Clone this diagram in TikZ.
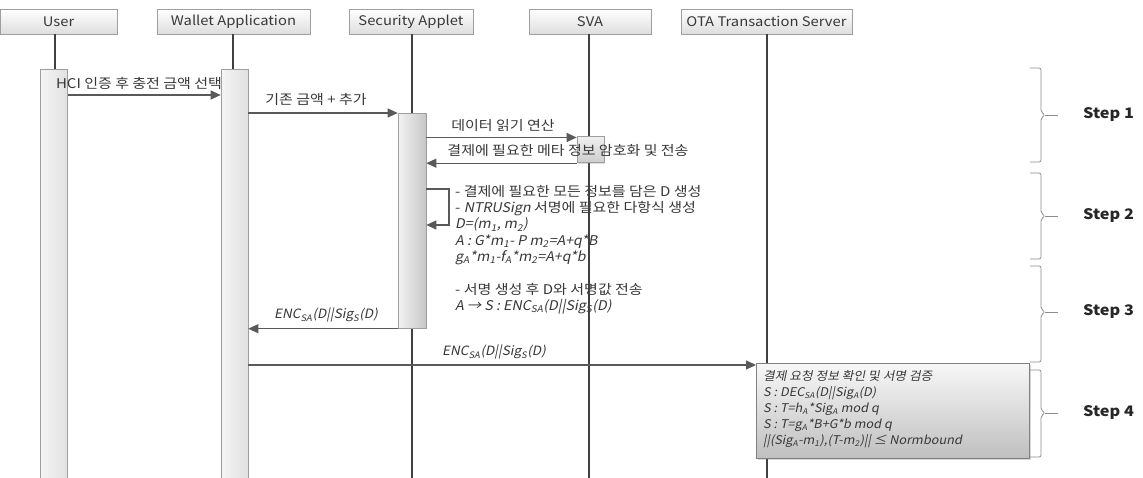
\documentclass[tikz,border=0pt]{standalone}
\usepackage{fontspec}
\setmainfont{Noto Sans CJK KR}[FakeStretch=1.12]
\newfontfamily\itf{Noto Sans CJK KR}[FakeSlant=0.2,FakeStretch=1.06]
\usetikzlibrary{arrows.meta,shadows}
\definecolor{lifec}{gray}{0.25}
\definecolor{msgc}{gray}{0.35}
\definecolor{txtc}{gray}{0.22}
\definecolor{bordc}{gray}{0.62}
\begin{document}
\begin{tikzpicture}[x=1pt,y=-1pt,
  head/.style={draw=bordc, line width=0.8pt, top color=white, bottom color=black!13,
    text=txtc, font=\fontsize{13.2}{15}\selectfont, inner sep=0pt,
    drop shadow={opacity=0.25, shadow xshift=1pt, shadow yshift=-1.2pt}},
  lifeline/.style={draw=lifec, line width=2pt},
  bar/.style={draw=bordc, line width=0.7pt, left color=black!4, right color=black!12},
  msg/.style={draw=msgc, line width=1.1pt, -{Triangle[length=10pt,width=9pt]}},
  lbl/.style={text=txtc, font=\fontsize{13.4}{15}\selectfont, inner sep=0pt},
  ilbl/.style={text=txtc, font=\itf\fontsize{12.8}{15}\selectfont, inner sep=0pt},
  brace/.style={draw=black!45, line width=0.7pt, rounded corners=2pt},
  steplbl/.style={text=black!85, font=\bfseries\fontsize{14.5}{16}\selectfont, inner sep=0pt, anchor=west}
]
\useasboundingbox (0,0) rectangle (1143,478);
\fill[white] (0,0) rectangle (1143,478);

% header boxes
\node[head, minimum width=117pt, minimum height=25pt] (huser) at (58.5,21.5) {User};
\node[head, minimum width=153pt, minimum height=25pt] (hwal) at (233.5,21.5) {Wallet Application};
\node[head, minimum width=124pt, minimum height=25pt] (hsa) at (411,21.5) {Security Applet};
\node[head, minimum width=122pt, minimum height=25pt] (hsva) at (590,21.5) {SVA};
\node[head, minimum width=171pt, minimum height=25pt] (hota) at (766.5,21.5) {OTA Transaction Server};

% lifeline ends
\coordinate (euser) at (55,478);
\coordinate (ewal) at (233,478);
\coordinate (esa) at (412,478);
\coordinate (esva) at (589,478);
\coordinate (eota) at (767,478);

% labels drawn beneath the lifelines
\node[lbl] (l2) at (316,99) {기존 금액 + 추가};
\node[lbl] (l3) at (503,125) {데이터 읽기 연산};
\node[lbl, anchor=north west, align=left, font=\fontsize{13.4}{16.3}\selectfont] (l5) at (455,185)
  {- 결제에 필요한 모든 정보를 담은 D 생성\\
   - {\itf NTRUSign} 서명에 필요한 다항식 생성\\
   {\itf D=(m\textsubscript{1}, m\textsubscript{2})}\\
   {\itf A : G*m\textsubscript{1}- P m\textsubscript{2}=A+q*B}\\
   {\itf g\textsubscript{A}*m\textsubscript{1}-f\textsubscript{A}*m\textsubscript{2}=A+q*b}\\[16.3pt]
   - 서명 생성 후 D와 서명값 전송\\
   {\itf A → S : ENC\textsubscript{SA}(D||Sig\textsubscript{S}(D)}};
\node[ilbl] (l6) at (326,315) {ENC\textsubscript{SA}(D||Sig\textsubscript{S}(D)};
\node[ilbl] (l7) at (494,352) {ENC\textsubscript{SA}(D||Sig\textsubscript{S}(D)};

% lifelines
\draw[lifeline] (huser.south -| euser) -- (euser);
\draw[lifeline] (hwal.south -| ewal) -- (ewal);
\draw[lifeline] (hsa.south -| esa) -- (esa);
\draw[lifeline] (hsva.south -| esva) -- (esva);
\draw[lifeline] (hota.south -| eota) -- (eota);

% activation bars
\node[bar, minimum width=27pt, minimum height=420pt, inner sep=0pt, anchor=north] (buser) at (54,69) {};
\node[bar, minimum width=27pt, minimum height=420pt, inner sep=0pt, anchor=north] (bwal) at (234.5,69) {};
\node[bar, minimum width=28pt, minimum height=215pt, inner sep=0pt, anchor=north, left color=black!5, right color=black!22] (bsa) at (412,113) {};
\node[bar, minimum width=27pt, minimum height=26pt, inner sep=0pt, anchor=north, top color=black!6, bottom color=black!20,
  drop shadow={opacity=0.25, shadow xshift=1pt, shadow yshift=-1.2pt}] (bsva) at (590.5,136.5) {};

% labels drawn over the bars
\node[lbl] (l1) at (139,83) {HCI 인증 후 충전 금액 선택};
\node[lbl] (l4) at (568,150) {결제에 필요한 메타 정보 암호화 및 전송};

% step 4 box
\node[draw=black!50, line width=0.7pt, top color=black!3, bottom color=black!25, minimum width=273pt, minimum height=95pt,
  inner sep=0pt, anchor=north west, drop shadow={opacity=0.3, shadow xshift=1.5pt, shadow yshift=-1.5pt}] (box4) at (756,363) {};
\node[ilbl, anchor=north west, align=left, font=\itf\fontsize{12}{16}\selectfont] (t4) at (763,370)
  {결제 요청 정보 확인 및 서명 검증\\
   S : DEC\textsubscript{SA}(D||Sig\textsubscript{A}(D)\\
   S : T=h\textsubscript{A}*Sig\textsubscript{A} mod q\\
   S : T=g\textsubscript{A}*B+G*b mod q\\
   ||(Sig\textsubscript{A}-m\textsubscript{1}),(T-m\textsubscript{2})|| ≤ Normbound};

% messages
\draw[msg] (buser.east |- 0,95) -- (bwal.west |- 0,95);
\draw[msg] (bwal.east |- bsa.north) -- (bsa.north west);
\draw[msg] (bsa.east |- 0,137.5) -- (bsva.west |- 0,137.5);
\draw[msg] (bsva.south west) -- (bsa.east |- bsva.south);
\coordinate (self1) at (449,189);
\coordinate (self2) at (449,225);
\draw[msg] (bsa.east |- self1) -- (self1) -- (self2) -- (bsa.east |- self2);
\draw[msg] (bsa.south west) -- (bwal.east |- bsa.south);
\draw[msg] (bwal.east |- 0,365) -- (box4.west |- 0,365);

% braces
\foreach \t/\b/\m/\n in {68/162/115/1, 173/259/216/2, 266/362/312/3, 370/457/413/4}{
  \draw[brace] (1030,\t) -- (1041,\t) -- (1041,\m-3) -- (1045,\m) -- (1041,\m+3) -- (1041,\b) -- (1030,\b);
  \draw[draw=black!45, line width=0.7pt] (1045,\m) -- (1058,\m);
  \node[steplbl] (step\n) at (1083,\m) {Step \n};
}
\end{tikzpicture}
\end{document}
